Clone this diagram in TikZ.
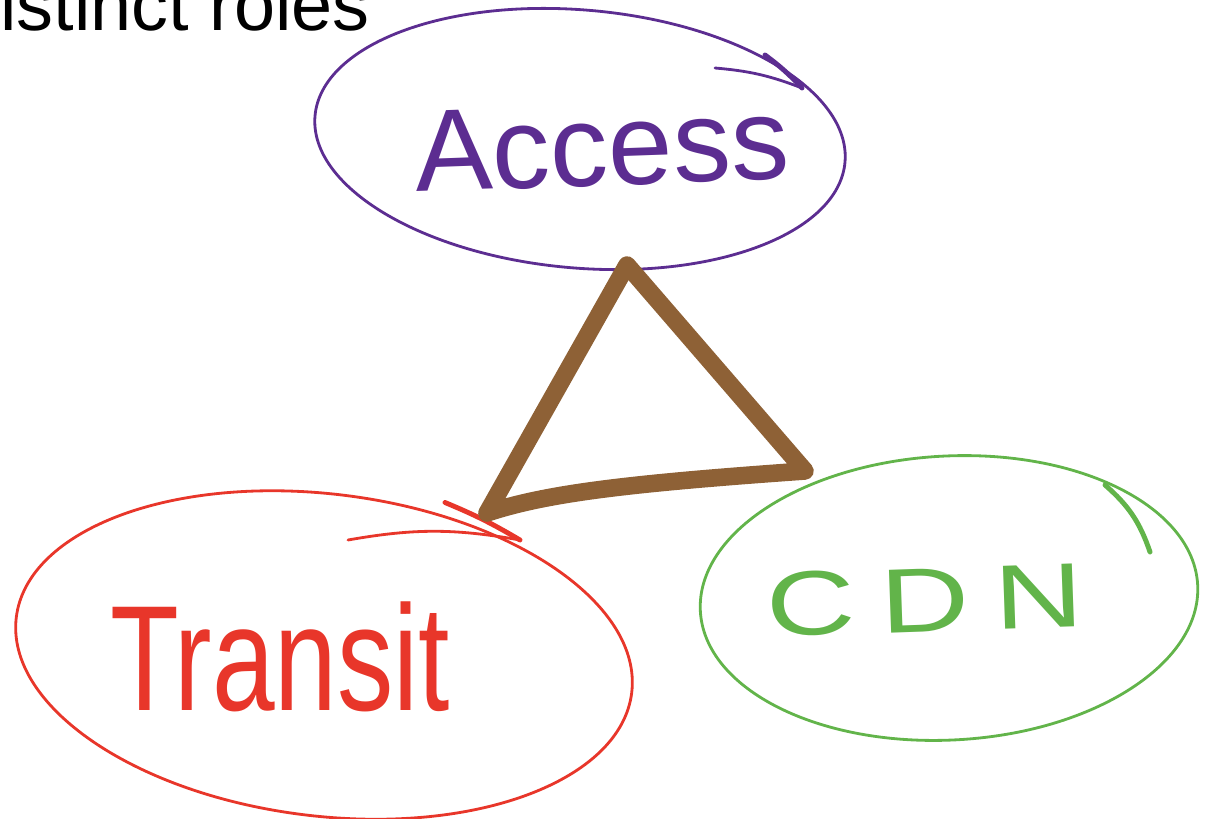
\documentclass[tikz,border=0pt]{standalone}
\usepackage{fontspec}
\setmainfont{Liberation Sans}
\usetikzlibrary{shapes.geometric}
\definecolor{accpurple}{RGB}{92,45,145}
\definecolor{trared}{RGB}{232,54,42}
\definecolor{cdngreen}{RGB}{98,180,74}
\definecolor{tribrown}{RGB}{142,97,54}

\begin{document}
\begin{tikzpicture}[line cap=round,
  ring/.style={ellipse, inner sep=0pt, line width=1.6pt},
  hook/.style={line width=1.6pt},
  tri/.style={draw=tribrown, line width=10pt, line join=round},
  hand/.style={inner sep=0pt}]
  \useasboundingbox (0,0) rectangle (24.14,-16.36);

  % ---------------- heading (cut off) ----------------
  \node[hand, anchor=base west, font=\fontsize{42}{50}\selectfont] (title) at (0,-0.6) {istinct roles};

  % ---------------- three rings ----------------
  \node[ring, draw=accpurple, minimum width=10.64cm, minimum height=5.16cm, rotate=-5] (access) at (11.6,-2.78) {};
  \node[ring, draw=trared, minimum width=12.4cm, minimum height=6.44cm, rotate=-7] (transit) at (6.48,-13.1) {};
  \node[ring, draw=cdngreen, minimum width=9.96cm, minimum height=5.68cm, rotate=3] (cdn) at (18.98,-11.96) {};

  % pen overlaps
  \draw[hook, accpurple] (14.3,-1.36) to[bend left=8] (16.04,-1.76);
  \draw[hook, accpurple, line width=2.8pt] (15.3,-1.1) to[bend left=5] (16.04,-1.76);
  \draw[hook, trared] (6.96,-10.8) to[bend left=10] (10.4,-10.8);
  \draw[hook, trared, line width=2.8pt] (8.9,-10.05) to[bend left=4] (10.4,-10.8);
  \draw[hook, cdngreen, line width=2.8pt] (22.1,-9.7) to[bend left=15] (23.0,-11.04);

  % ---------------- labels ----------------
  \node[hand, text=accpurple, font=\fontsize{66}{70}\selectfont, rotate=2] (accLabel) at (12.04,-2.92) {Access};
  \node[hand, text=trared, font=\fontsize{61}{66}\selectfont] (traLabel) at (5.6,-13.14) {\scalebox{1.05}[1.4]{Transit}};
  \node[hand, text=cdngreen, font=\fontsize{52}{56}\selectfont, rotate=2] (cdnLabel) at (18.5,-12.0) {\scalebox{1.35}[1]{C\kern.2em D\kern.2em N}};

  % ---------------- triangle ----------------
  \coordinate (accV) at (12.54,-5.30);
  \coordinate (traV) at (9.74,-10.26);
  \coordinate (cdnV) at (16.10,-9.42);
  \draw[tri] (accV) -- (traV) .. controls (10.9,-9.88) and (12.4,-9.68) .. (cdnV) -- cycle;
\end{tikzpicture}
\end{document}
